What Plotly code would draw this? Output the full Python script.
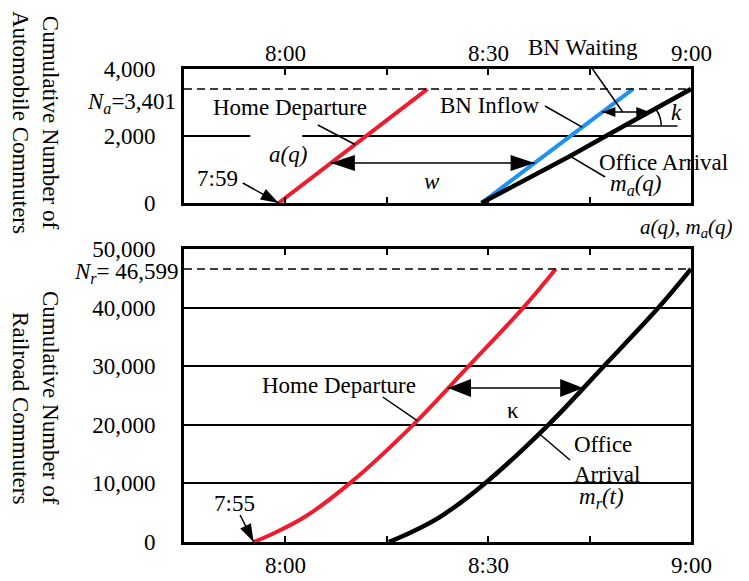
import math
import numpy as np
import plotly.graph_objects as go


def clock(s):
    h, m = s.split(":")
    return int(h) * 60 + float(m)


# automobile commuters (upper panel)
auto_depart_t = ["7:59", "8:21"]
auto_depart_n = [0, 3401]
auto_inflow_t = ["8:29", "8:51.4"]
auto_inflow_n = [0, 3401]
auto_arrive_t = ["8:29", "8:42", "8:50", "9:00"]
auto_arrive_n = [0, 1390, 2290, 3401]
N_a = 3401

# railroad commuters (lower panel)
rail_depart_t = ["7:55.3", "7:58.3", "8:02.9", "8:09.5", "8:18.9", "8:27.1", "8:35.2", "8:40"]
rail_depart_n = [0, 1500, 4300, 10000, 20000, 30000, 40000, 46599]
rail_arrive_t = ["8:15.3", "8:18.3", "8:22.9", "8:29.5", "8:38.9", "8:47.1", "8:55.2", "9:00"]
rail_arrive_n = [0, 1500, 4300, 10000, 20000, 30000, 40000, 46599]
N_r = 46599

time_ticks = ["7:45", "8:00", "8:15", "8:30", "8:45", "9:00"]
time_labels = ["", "8:00", "", "8:30", "", "9:00"]
auto_ticks = [0, 2000, 4000]
auto_labels = ["0", "2,000", "4,000"]
rail_ticks = [0, 10000, 20000, 30000, 40000, 50000]
rail_labels = ["0", "10,000", "20,000", "30,000", "40,000", "50,000"]

RED = "#ee1c2e"
BLUE = "#1e90f0"
W, H = 749, 581
OFF = 8  # page body margin
L, R = 184, 691
T1, B1 = 69, 203
T2, B2 = 249, 542
FONT = "Liberation Serif"


def pxx(s):
    return (s - OFF) / W


def pxy(s):
    return 1 - (s - OFF) / H


xr = [clock(time_ticks[0]), clock(time_ticks[-1])]
px_x = (R - L) / (xr[1] - xr[0])
px_y1 = (B1 - T1) / auto_ticks[-1]
px_y2 = (B2 - T2) / rail_ticks[-1]

ad_t = [clock(t) for t in auto_depart_t]
ai_t = [clock(t) for t in auto_inflow_t]
aa_t = [clock(t) for t in auto_arrive_t]
rd_t = [clock(t) for t in rail_depart_t]
ra_t = [clock(t) for t in rail_arrive_t]

fig = go.Figure()
fig.add_trace(go.Scatter(x=ad_t, y=auto_depart_n, mode="lines",
                         line=dict(color=RED, width=4), xaxis="x", yaxis="y"))
fig.add_trace(go.Scatter(x=ai_t, y=auto_inflow_n, mode="lines",
                         line=dict(color=BLUE, width=4), xaxis="x", yaxis="y"))
fig.add_trace(go.Scatter(x=aa_t, y=auto_arrive_n, mode="lines",
                         line=dict(color="black", width=4.5), xaxis="x", yaxis="y"))
fig.add_trace(go.Scatter(x=rd_t, y=rail_depart_n, mode="lines",
                         line=dict(color=RED, width=4, shape="spline", smoothing=1.0),
                         xaxis="x2", yaxis="y2"))
fig.add_trace(go.Scatter(x=ra_t, y=rail_arrive_n, mode="lines",
                         line=dict(color="black", width=4.5, shape="spline", smoothing=1.0),
                         xaxis="x2", yaxis="y2"))


def line(xref, yref, x0, y0, x1, y1, **kw):
    st = dict(color="black", width=1.5)
    st.update(kw)
    fig.add_shape(type="line", xref=xref, yref=yref, x0=x0, y0=y0, x1=x1, y1=y1, line=st)


def head(xref, yref, x, y, dx, dy, length, half):
    n = math.hypot(dx, dy)
    ux, uy = dx / n, dy / n
    bx, by = -length * ux, -length * uy
    qx, qy = -uy * half, ux * half
    path = f"M0,0 L{bx + qx:.1f},{by + qy:.1f} L{bx - qx:.1f},{by - qy:.1f} Z"
    fig.add_shape(type="path", xref=xref, yref=yref, xsizemode="pixel", ysizemode="pixel",
                  xanchor=x, yanchor=y, path=path, fillcolor="black", line_width=0)


def arrow(xref, yref, x0, y0, x1, y1, pyscale, length, half, both=False):
    line(xref, yref, x0, y0, x1, y1)
    dx, dy = (x1 - x0) * px_x, (y1 - y0) * pyscale
    head(xref, yref, x1, y1, dx, dy, length, half)
    if both:
        head(xref, yref, x0, y0, -dx, -dy, length, half)


def text(xref, yref, x, y, s, **kw):
    opts = dict(xanchor="center", yanchor="middle")
    opts.update(kw)
    fig.add_annotation(xref=xref, yref=yref, x=x, y=y, text=s, showarrow=False, **opts)


# time tick labels
for t, lab in zip(time_ticks, time_labels):
    if lab:
        text("x", "paper", clock(t), pxy(53), lab)
        text("x2", "paper", clock(t), pxy(565), lab)

# dashed totals
line("x", "y", xr[0], N_a, xr[1], N_a, dash="8px,5px")
line("x2", "y2", xr[0], N_r, xr[1], N_r, dash="8px,5px")
line("x", "y", 474.8, 2000, 482.5, 2000, color="white", width=3)

# upper panel annotations
text("x", "y", 469.9, 746, "7:59")
arrow("x", "y", 473.7, 597, ad_t[0], 0, px_y1, 18, 6)
text("x", "y", 480.7, 2836, "Home Departure")
line("x", "y", 484.8, 2328, 490.3, np.interp(490.3, ad_t, auto_depart_n))
text("x", "y", 480.4, 1433, "<i>a(q)</i>")
vw = 1194
arrow("x", "y", np.interp(vw, auto_depart_n, ad_t), vw, np.interp(vw, auto_inflow_n, ai_t), vw,
      px_y1, 24, 8, both=True)
text("x", "y", 501.7, 627, "<i>w</i>")
text("x", "y", 510.2, 2896, "BN Inflow")
line("x", "y", 518.4, 2896, 523.9, np.interp(523.9, ai_t, auto_inflow_n))
text("paper", "paper", pxx(583), pxy(48), "BN Waiting")
vb = 2716
line("x", "y", 524.3, 4328, 529.9, vb)
arrow("x", "y", np.interp(vb, auto_inflow_n, ai_t), vb, np.interp(vb, auto_arrive_n, aa_t), vb,
      px_y1, 13, 5, both=True)
vk = 2298
line("x", "y", np.interp(vk, auto_arrive_n, aa_t), vk, 538, vk)
fig.add_shape(type="path", xref="x", yref="y", path="M534.8,2806 Q535.6,2570 535.6,2298",
              line=dict(color="black", width=1.5))
text("x", "y", 537.9, 2687, "<i>k</i>")
text("x", "y", 536.0, 1194, "Office Arrival")
line("x", "y", 522.1, np.interp(522.1, aa_t, auto_arrive_n), 527.3, 776)
text("x", "y", 531.9, 537, "<i>m</i><sub><i>a</i></sub><i>(q)</i>")
text("paper", "paper", pxx(686), pxy(228),
     "<i>a(q)</i>, <i>m</i><sub><i>a</i></sub><i>(q)</i>", font=dict(size=21))

# lower panel annotations
text("x2", "y2", 472.5, 6655, "7:55")
arrow("x2", "y2", 473.3, 4608, rd_t[0], 0, px_y2, 18, 6)
text("x2", "y2", 487.9, 26792, "Home Departure")
line("x2", "y2", 494.4, 24744, 499.5, np.interp(499.5, rd_t, rail_depart_n))
vc = 26280
arrow("x2", "y2", np.interp(vc, rail_depart_n, rd_t), vc, np.interp(vc, rail_arrive_n, ra_t), vc,
      px_y2, 23, 9, both=True)
text("x2", "y2", 513.7, 22526, "κ")
text("x2", "y2", 527.6, 14164, "Office<br>Arrival", align="left")
line("x2", "y2", 517.5, np.interp(517.5, ra_t, rail_arrive_n), 522.1, 13993)
text("x2", "y2", 526.8, 7509, "<i>m</i><sub><i>r</i></sub><i>(t)</i>")
text("x2", "y2", 544.7, 6655, "Time")
text("x2", "y2", 542.8, 683, "<i>t</i>")

# y titles and totals
text("paper", "paper", pxx(36), pxy(122), "Cumulative Number of<br>Automobile Commuters",
     textangle=90)
text("paper", "paper", pxx(36), pxy(398), "Cumulative Number of<br>Railroad Commuters",
     textangle=90, align="right")
text("paper", "y", pxx(178), N_a, f"<i>N</i><sub><i>a</i></sub>={N_a:,}", xanchor="right", yshift=-14)
text("paper", "y2", pxx(181), N_r, f"<i>N</i><sub><i>r</i></sub>= {N_r:,}", xanchor="right", yshift=-4)

xax = dict(domain=[pxx(L), pxx(R)], range=xr, tickvals=[clock(t) for t in time_ticks],
           showticklabels=False, ticks="inside", ticklen=6, tickwidth=1.5, tickcolor="black",
           showline=True, linewidth=3, linecolor="black", mirror="allticks",
           showgrid=False, zeroline=False, automargin=False)
yax = dict(ticks="", showline=True, linewidth=3, linecolor="black", mirror=True,
           showgrid=True, gridcolor="black", gridwidth=1.5, zeroline=False,
           ticklabelstandoff=21, automargin=False)

fig.update_layout(
    width=W, height=H, autosize=False, showlegend=False,
    margin=dict(l=0, r=0, t=0, b=0),
    paper_bgcolor="white", plot_bgcolor="white",
    font=dict(family=FONT, size=23, color="black"),
    xaxis=dict(xax, anchor="y", side="top"),
    yaxis=dict(yax, domain=[pxy(B1), pxy(T1)], range=[0, auto_ticks[-1]],
               tickvals=auto_ticks, ticktext=auto_labels, anchor="x"),
    xaxis2=dict(xax, anchor="y2", side="bottom"),
    yaxis2=dict(yax, domain=[pxy(B2), pxy(T2)], range=[0, rail_ticks[-1]],
                tickvals=rail_ticks, ticktext=rail_labels, anchor="x2"),
)

fig.write_html("out.html")
